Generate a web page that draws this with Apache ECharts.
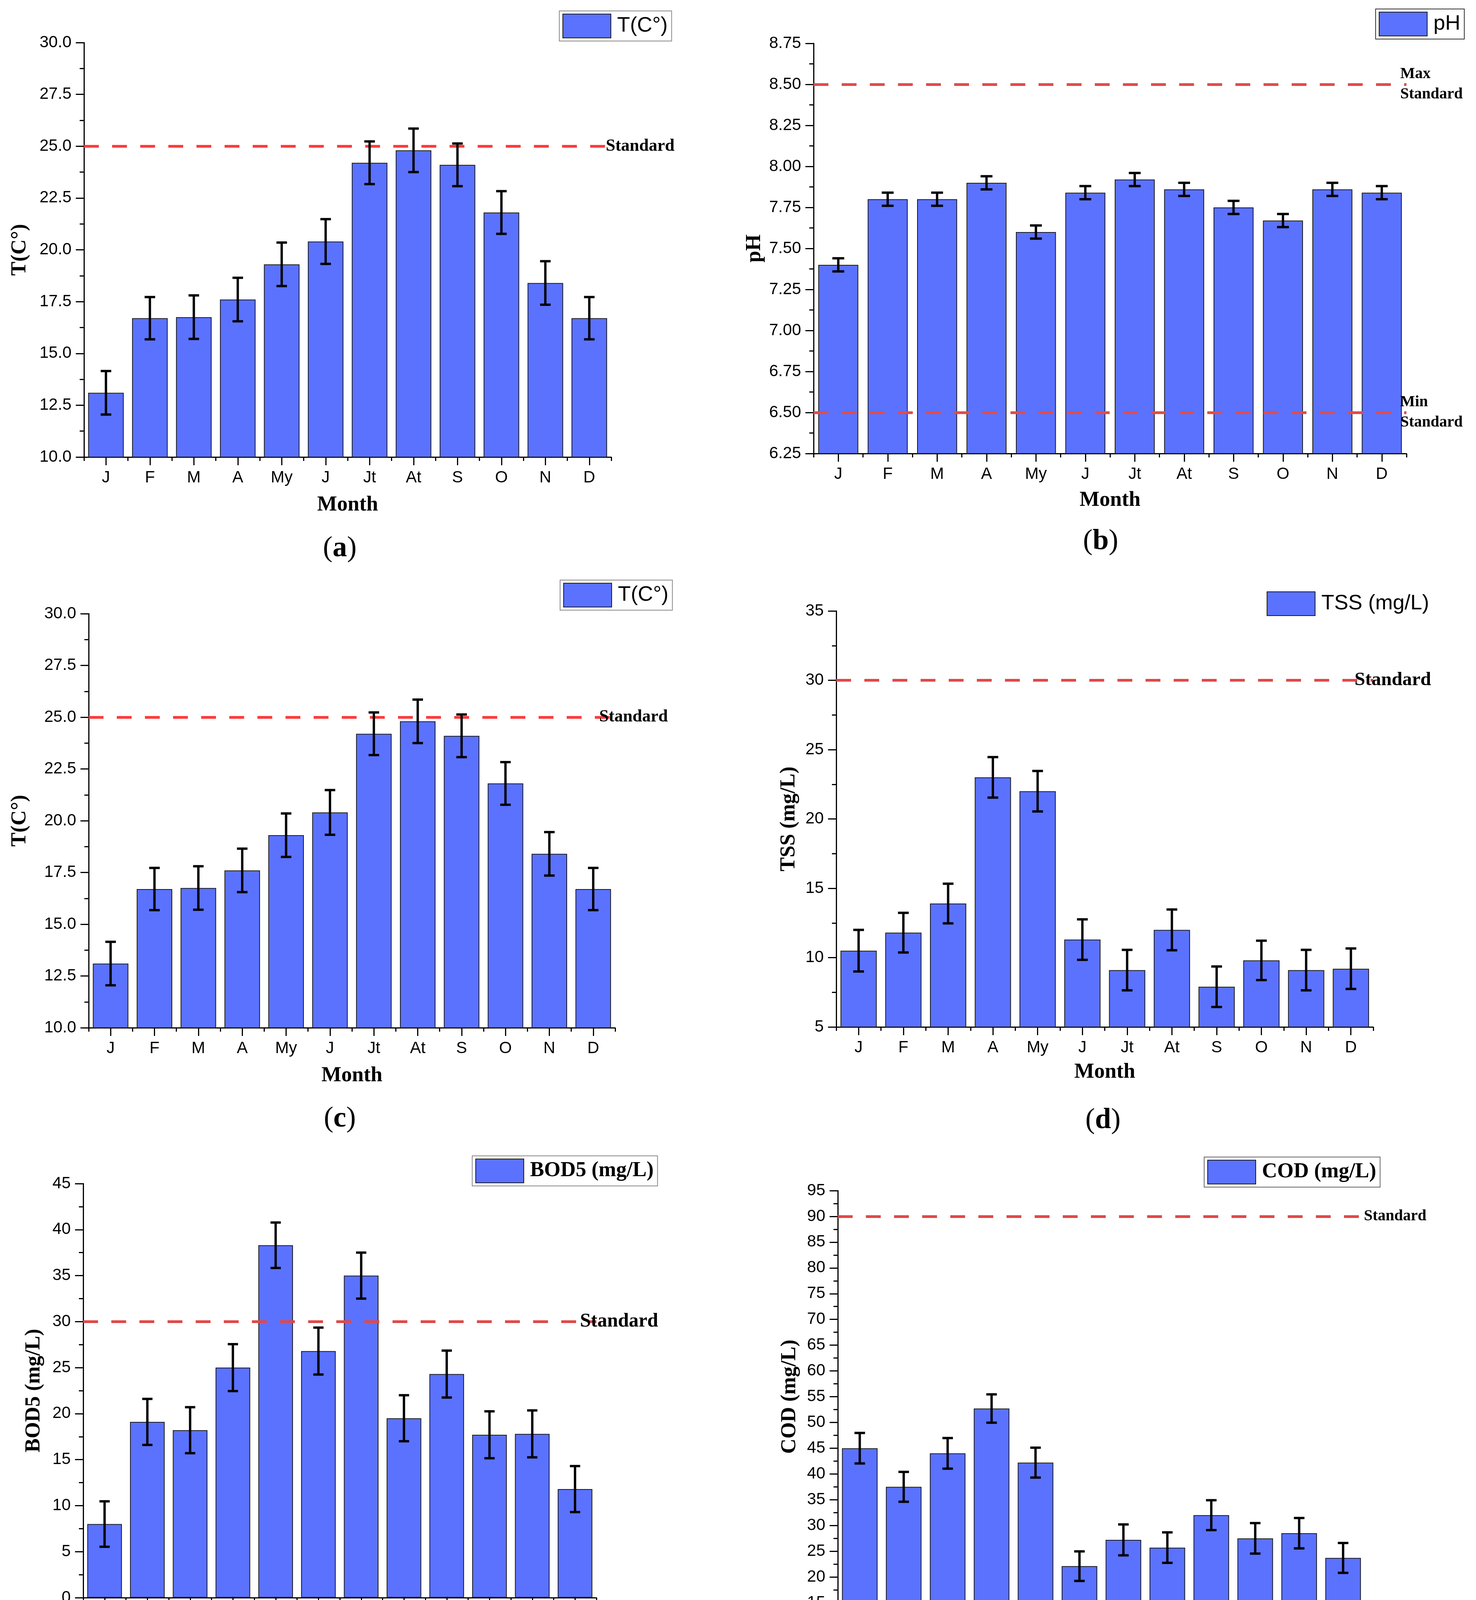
<!DOCTYPE html>
<html>
<head>
<meta charset="utf-8">
<script src="https://cdn.jsdelivr.net/npm/echarts@6/dist/echarts.min.js"></script>
<style>
html,body{margin:0;padding:0;background:#fff;overflow:hidden;}
#chart{width:3779px;height:4395px;}
</style>
</head>
<body>
<div id="chart"></div>
<script>
// ---------- DATA ----------
const months = ['J','F','M','A','My','J','Jt','At','S','O','N','D'];

const tempValues = [13.1, 16.7, 16.75, 17.6, 19.3, 20.4, 24.2, 24.8, 24.1, 21.8, 18.4, 16.7];
const tempErrors = [1.05, 1.02, 1.05, 1.05, 1.05, 1.08, 1.03, 1.05, 1.03, 1.03, 1.05, 1.02];
const tempTicks = [10, 12.5, 15, 17.5, 20, 22.5, 25, 27.5, 30];
const tempStandard = [25];

const phValues = [7.40, 7.80, 7.80, 7.90, 7.60, 7.84, 7.92, 7.86, 7.75, 7.67, 7.86, 7.84];
const phErrors = [0.04, 0.04, 0.04, 0.04, 0.04, 0.04, 0.04, 0.04, 0.04, 0.04, 0.04, 0.04];
const phTicks = [6.25, 6.5, 6.75, 7, 7.25, 7.5, 7.75, 8, 8.25, 8.5, 8.75];
const phStandard = [8.5, 6.5];

const tssValues = [10.5, 11.8, 13.9, 23.0, 22.0, 11.3, 9.1, 12.0, 7.9, 9.8, 9.1, 9.2];
const tssErrors = [1.5, 1.43, 1.43, 1.46, 1.46, 1.46, 1.46, 1.47, 1.46, 1.42, 1.46, 1.46];
const tssTicks = [5, 10, 15, 20, 25, 30, 35];
const tssStandard = [30];

const bodValues = [8.0, 19.1, 18.2, 25.0, 38.3, 26.8, 35.0, 19.5, 24.3, 17.7, 17.8, 11.8];
const bodErrors = [2.47, 2.5, 2.5, 2.55, 2.47, 2.55, 2.5, 2.5, 2.55, 2.55, 2.55, 2.5];
const bodTicks = [0, 5, 10, 15, 20, 25, 30, 35, 40, 45];
const bodStandard = [30];

const codValues = [45.0, 37.5, 44.0, 52.7, 42.2, 22.1, 27.2, 25.7, 32.0, 27.5, 28.5, 23.7];
const codErrors = [2.96, 2.9, 2.97, 2.75, 2.9, 2.87, 3.0, 2.96, 2.9, 2.96, 2.95, 2.9];
const codTicks = [15, 20, 25, 30, 35, 40, 45, 50, 55, 60, 65, 70, 75, 80, 85, 90, 95];
const codStandard = [90];

const seriesNames = ['T(C°)', 'pH', 'T(C°)', 'TSS (mg/L)', 'BOD5 (mg/L)', 'COD (mg/L)'];
const yNames = ['T(C°)', 'pH', 'T(C°)', 'TSS (mg/L)', 'BOD5 (mg/L)', 'COD (mg/L)'];
const xName = 'Month';
const panelLetters = ['a', 'b', 'c', 'd', 'e', 'f'];
const standardLabels = [['Standard'], ['Max\nStandard', 'Min\nStandard'], ['Standard'], ['Standard'], ['Standard'], ['Standard']];

// ---------- LAYOUT / STYLE ----------
const SANS = 'Liberation Sans, Arial, sans-serif';
const SERIF = 'Liberation Serif, Times New Roman, serif';
const BAR_COLOR = '#5B72FF';

const panels = [
  {values: tempValues, errors: tempErrors, ticks: tempTicks, std: tempStandard, dec: 1,
   grid: {left: 215, top: 109, right: 1565, bottom: 1170}, yGap: 137, xGap: 96,
   legend: {left: 1432, top: 28, font: SANS, weight: 'normal', border: '#8a8a8a', bw: 2},
   stdColor: '#FF3B3B', stdFont: 44, stdDist: -14, sub: [870, 1405]},
  {values: phValues, errors: phErrors, ticks: phTicks, std: phStandard, dec: 2,
   grid: {left: 2083, top: 111, right: 3601, bottom: 1161}, yGap: 124, xGap: 93,
   legend: {left: 3522, top: 23, font: SANS, weight: 'normal', border: '#333', bw: 2},
   stdColor: '#E24B4B', stdFont: 40, stdDist: -16, sub: [2818, 1387]},
  {values: tempValues, errors: tempErrors, ticks: tempTicks, std: tempStandard, dec: 1,
   grid: {left: 227, top: 1571, right: 1575, bottom: 2631}, yGap: 149, xGap: 96,
   legend: {left: 1434, top: 1485, font: SANS, weight: 'normal', border: '#8a8a8a', bw: 2},
   stdColor: '#FF3B3B', stdFont: 44, stdDist: -41, sub: [870, 2865]},
  {values: tssValues, errors: tssErrors, ticks: tssTicks, std: tssStandard, dec: 0,
   grid: {left: 2141, top: 1564, right: 3516, bottom: 2629}, yGap: 94, xGap: 89,
   legend: {left: 3235, top: 1507, font: SANS, weight: 'normal', border: 'transparent', bw: 0},
   stdColor: '#E04848', stdFont: 49, stdDist: -48, sub: [2824, 2869]},
  {values: bodValues, errors: bodErrors, ticks: bodTicks, std: bodStandard, dec: 0,
   grid: {left: 213, top: 3030, right: 1527, bottom: 4090}, yGap: 99, xGap: 91,
   legend: {left: 1209, top: 2959, font: SERIF, weight: 'bold', border: '#8a8a8a', bw: 2},
   stdColor: '#E04848', stdFont: 50, stdDist: -42, sub: [870, 4330]},
  {values: codValues, errors: codErrors, ticks: codTicks, std: codStandard, dec: 0,
   grid: {left: 2145, top: 3048, right: 3495, bottom: 4103}, yGap: 96, xGap: 84,
   legend: {left: 3083, top: 2962, font: SERIF, weight: 'bold', border: '#666', bw: 2},
   stdColor: '#E04848', stdFont: 40, stdDist: -3, sub: [2815, 4330]}
];

function renderErr(params, api) {
  const xi = api.value(0), v = api.value(1), e = api.value(2);
  const top = api.coord([xi, v + e]);
  const bot = api.coord([xi, v - e]);
  const half = api.size([1, 0])[0] * 0.12;
  const style = {stroke: '#000', lineWidth: 6};
  return {type: 'group', children: [
    {type: 'line', shape: {x1: top[0], y1: top[1], x2: bot[0], y2: bot[1]}, style: style},
    {type: 'line', shape: {x1: top[0] - half, y1: top[1], x2: top[0] + half, y2: top[1]}, style: style},
    {type: 'line', shape: {x1: bot[0] - half, y1: bot[1], x2: bot[0] + half, y2: bot[1]}, style: style}
  ]};
}

const grids = [], xAxes = [], yAxes = [], series = [], legends = [], graphics = [];

panels.forEach((p, i) => {
  const g = p.grid;
  grids.push({left: g.left, top: g.top, width: g.right - g.left, height: g.bottom - g.top, containLabel: false});

  xAxes.push({
    type: 'category', gridIndex: i, data: months, position: 'bottom',
    name: xName, nameLocation: 'middle', nameGap: p.xGap,
    nameTextStyle: {fontFamily: SERIF, fontWeight: 'bold', fontSize: 54, color: '#000'},
    axisLine: {show: true, lineStyle: {color: '#000', width: 3}},
    axisTick: {show: true, alignWithLabel: true, length: 21, lineStyle: {color: '#000', width: 3}},
    axisLabel: {show: true, interval: 0, margin: 32, fontFamily: SANS, fontSize: 42, color: '#000'},
    splitLine: {show: false}
  });
  xAxes.push({
    type: 'category', gridIndex: i, data: months, position: 'bottom',
    axisLine: {show: false},
    axisTick: {show: true, length: 10, lineStyle: {color: '#000', width: 3}},
    axisLabel: {show: false}, splitLine: {show: false}
  });

  const t = p.ticks;
  yAxes.push({
    type: 'value', gridIndex: i,
    min: t[0], max: t[t.length - 1], interval: t[1] - t[0],
    name: yNames[i], nameLocation: 'middle', nameGap: p.yGap,
    nameTextStyle: {fontFamily: SERIF, fontWeight: 'bold', fontSize: 54, color: '#000'},
    axisLine: {show: true, lineStyle: {color: '#000', width: 3}},
    axisTick: {show: true, length: 21, lineStyle: {color: '#000', width: 3}},
    minorTick: {show: true, splitNumber: 2, length: 11, lineStyle: {color: '#000', width: 3}},
    axisLabel: {margin: 32, fontFamily: SANS, fontSize: 42, color: '#000',
      formatter: v => v.toFixed(p.dec)},
    splitLine: {show: false}
  });

  const mlData = p.std.map((s, k) => ({yAxis: s, label: {formatter: standardLabels[i][k]}}));

  series.push({
    type: 'bar', name: seriesNames[i], xAxisIndex: 2 * i, yAxisIndex: i,
    data: p.values, barCategoryGap: '19%',
    itemStyle: {color: BAR_COLOR, borderColor: '#1a1a1a', borderWidth: 2},
    markLine: {
      silent: true, symbol: ['none', 'none'], animation: false,
      lineStyle: {type: [38, 34], width: 7, color: p.stdColor},
      label: {show: true, position: 'end', distance: p.stdDist, color: '#000',
        fontFamily: SERIF, fontWeight: 'bold', fontSize: p.stdFont, lineHeight: p.stdFont * 1.3, align: 'left'},
      data: mlData
    },
    z: 2
  });
  series.push({
    type: 'custom', name: seriesNames[i] + ' error', xAxisIndex: 2 * i, yAxisIndex: i,
    renderItem: renderErr,
    encode: {x: 0, y: 1},
    data: p.values.map((v, k) => [k, v, p.errors[k]]),
    z: 5
  });

  legends.push({
    data: [seriesNames[i]], left: p.legend.left, top: p.legend.top,
    orient: 'horizontal', icon: 'rect', itemWidth: 123, itemHeight: 61,
    padding: [7, 10, 7, 8], borderColor: p.legend.border, borderWidth: p.legend.bw,
    selectedMode: false,
    textStyle: {fontFamily: p.legend.font, fontWeight: p.legend.weight, fontSize: 54, color: '#000', padding: [0, 0, 0, 11]}
  });

  graphics.push({
    type: 'text', x: p.sub[0], y: p.sub[1],
    style: {
      text: '{p|(}{b|' + panelLetters[i] + '}{p|)}',
      align: 'center', verticalAlign: 'middle',
      rich: {
        p: {fontFamily: SERIF, fontSize: 74, fill: '#000', fontWeight: 'normal'},
        b: {fontFamily: SERIF, fontSize: 74, fill: '#000', fontWeight: 'bold'}
      }
    }
  });
});

const chart = echarts.init(document.getElementById('chart'), null, {renderer: 'canvas', devicePixelRatio: 1});
chart.setOption({
  animation: false,
  backgroundColor: '#ffffff',
  grid: grids,
  xAxis: xAxes,
  yAxis: yAxes,
  legend: legends,
  series: series,
  graphic: graphics
});
</script>
</body>
</html>
